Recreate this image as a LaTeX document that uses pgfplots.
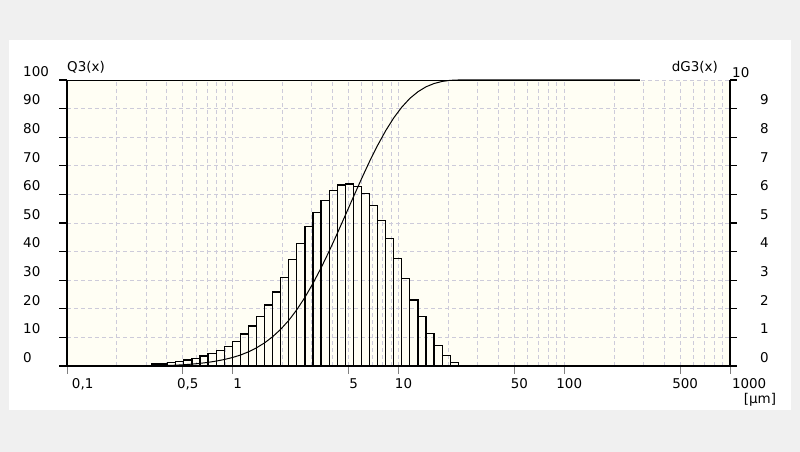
\documentclass[border=0pt]{standalone}
\usepackage{pgfplots}
\pgfplotsset{compat=1.18}
\usepackage{fontspec}
\setmainfont{DejaVu Sans}
\definecolor{bggray}{RGB}{240,240,240}
\definecolor{plotbg}{RGB}{255,254,244}
\definecolor{gridc}{RGB}{205,203,218}

\pgfplotstableread{
x y
0.2893 0.03
0.3237 0.07
0.3621 0.07
0.4051 0.12
0.4532 0.15
0.5069 0.21
0.5671 0.26
0.6343 0.35
0.7096 0.44
0.7938 0.55
0.8880 0.68
0.9934 0.86
1.1112 1.12
1.2430 1.40
1.3905 1.72
1.5555 2.13
1.7400 2.59
1.9465 3.10
2.1774 3.71
2.4357 4.27
2.7247 4.87
3.0480 5.36
3.4096 5.80
3.8141 6.13
4.2666 6.33
4.7728 6.36
5.3391 6.27
5.9725 6.04
6.6811 5.61
7.4737 5.10
8.3604 4.45
9.3523 3.75
10.462 3.05
11.703 2.31
13.092 1.72
14.645 1.14
16.382 0.73
18.326 0.38
20.500 0.12
22.932 0.12
}\dgthree

\pgfplotstableread{
x q
0.2893 0
0.3237 0.03
0.3621 0.10
0.4051 0.17
0.4532 0.29
0.5069 0.44
0.5671 0.65
0.6343 0.92
0.7096 1.27
0.7938 1.71
0.8880 2.26
0.9934 2.95
1.1112 3.81
1.2430 4.94
1.3905 6.35
1.5555 8.08
1.7400 10.23
1.9465 12.83
2.1774 15.95
2.4357 19.69
2.7247 23.99
3.0480 28.89
3.4096 34.28
3.8141 40.12
4.2666 46.29
4.7728 52.66
5.3391 59.06
5.9725 65.37
6.6811 71.45
7.4737 77.10
8.3604 82.23
9.3523 86.71
10.462 90.49
11.703 93.56
13.092 95.88
14.645 97.61
16.382 98.76
18.326 99.50
20.500 99.88
22.932 100
286 100
}\qthree

\begin{document}
\begin{tikzpicture}[x=1bp,y=1bp,font=\fontsize{13.5}{16}\selectfont]
\path[use as bounding box, fill=bggray] (-67,-86) rectangle (733,366);
\fill[white] (-58,-44) rectangle (724,326);
\fill[plotbg] (0,0) rectangle (663,286);

% Axis A: grid, left y axis (Q3), bottom x axis
\begin{axis}[
  at={(0,0)}, anchor=south west,
  scale only axis, width=663bp, height=286bp,
  xmode=log, xmin=0.1, xmax=1000, ymin=0, ymax=100,
  axis x line*=bottom, axis y line*=left,
  axis line style={-, black, line width=1.1bp},
  xtick={0.1,0.5,1,5,10,50,100,500,1000},
  xticklabels={{\rlap{0,1}},{0,5},1,5,10,50,100,500,{\rlap{\hspace*{-3bp}1000}}},
  minor xtick={0.2,0.3,0.4,0.6,0.7,0.8,0.9,2,3,4,6,7,8,9,20,30,40,60,70,80,90,200,300,400,600,700,800,900},
  ytick={0,10,...,100},
  xmajorgrids, xminorgrids, ymajorgrids,
  major grid style={gridc, line width=0.8bp, dash pattern=on 4bp off 3bp},
  minor grid style={gridc, line width=0.8bp, dash pattern=on 4bp off 3bp},
  tick align=outside,
  major tick length=8bp, minor tick length=0bp,
  xtick style={gray, line width=0.8bp},
  ytick style={black, line width=1.1bp},
  /pgf/number format/assume math mode=true,
  tick label style={font=\fontsize{13.5}{16}\selectfont},
  xticklabel style={anchor=north, inner sep=0pt, xshift=5bp, yshift=-4bp},
  yticklabel style={anchor=west, inner sep=0pt, xshift=-36bp, yshift=8.5bp},
]
\end{axis}

% Axis B: right y axis (dG3) with histogram
\begin{axis}[
  at={(0,0)}, anchor=south west,
  scale only axis, width=663bp, height=286bp,
  xmode=log, xmin=0.1, xmax=1000, ymin=0, ymax=10,
  axis x line=none, axis y line*=right,
  axis line style={-, black, line width=1.1bp},
  ytick={0,1,...,9},
  extra y ticks={10},
  extra y tick style={yticklabel style={anchor=west, xshift=-37bp, yshift=-1.5bp}},
  tick align=outside, major tick length=7bp,
  ytick style={black, line width=1.1bp},
  /pgf/number format/assume math mode=true,
  tick label style={font=\fontsize{13.5}{16}\selectfont},
  yticklabel style={anchor=east, inner sep=0pt, xshift=32bp, yshift=8.5bp},
]
\addplot[ybar interval, draw=black, line width=1.2bp, fill=none] table[x=x, y=y] {\dgthree};
\end{axis}

% Axis C: cumulative curve Q3
\begin{axis}[
  at={(0,0)}, anchor=south west,
  scale only axis, width=663bp, height=286bp,
  xmode=log, xmin=0.1, xmax=1000, ymin=0, ymax=100,
  hide axis, clip=false,
]
\addplot[black, line width=0.8bp] coordinates {(0.1,100) (286,100)};
\addplot[black, line width=1bp] table[x=x, y=q] {\qthree};
\end{axis}

\node[anchor=base west, inner sep=0pt] at (0,294) {Q3(x)};
\node[anchor=base east, inner sep=0pt] at (651,294) {dG3(x)};
\node[inner sep=0pt] at (693,-34) {[µm]};
\end{tikzpicture}
\end{document}
